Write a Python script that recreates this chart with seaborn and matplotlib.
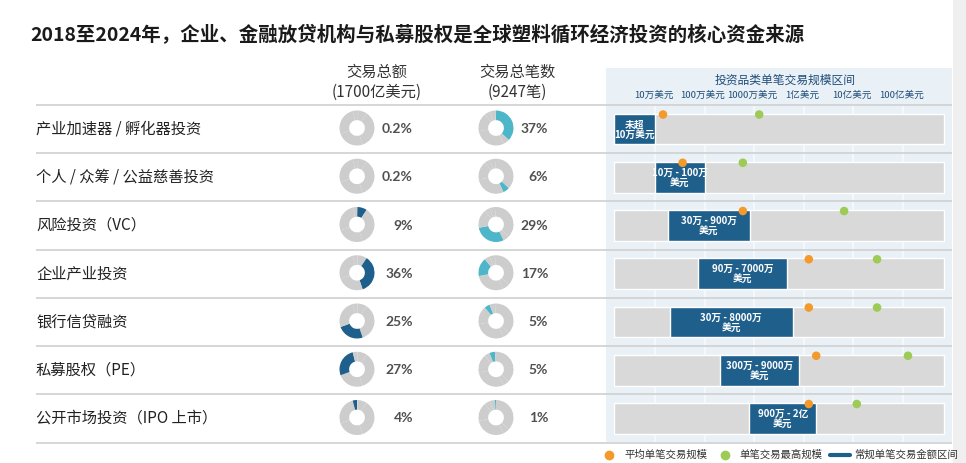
import numpy as np
import pandas as pd
import matplotlib
matplotlib.use("Agg")
import matplotlib.pyplot as plt
from matplotlib.lines import Line2D
from matplotlib.patches import Rectangle
import seaborn as sns

# ---------------- data ----------------
title = "2018至2024年，企业、金融放贷机构与私募股权是全球塑料循环经济投资的核心资金来源"
categories = [
    "产业加速器 / 孵化器投资",
    "个人 / 众筹 / 公益慈善投资",
    "风险投资（VC）",
    "企业产业投资",
    "银行信贷融资",
    "私募股权（PE）",
    "公开市场投资（IPO 上市）",
]
amount_share = [0.2, 0.2, 9, 36, 25, 27, 4]      # % of total deal value
count_share = [37, 6, 29, 17, 5, 5, 1]           # % of total deal count
amount_header = ["交易总额", "(1700亿美元)"]
count_header = ["交易总笔数", "(9247笔)"]

range_labels = [
    "未超\n10万美元",
    "10万 - 100万\n美元",
    "30万 - 900万\n美元",
    "90万 - 7000万\n美元",
    "30万 - 8000万\n美元",
    "300万 - 9000万\n美元",
    "900万 - 2亿\n美元",
]
range_low = [1.48e4, 1.0e5, 1.8e5, 7.4e5, 2.0e5, 2.04e6, 7.9e6]     # USD
range_high = [1.0e5, 1.0e6, 8.3e6, 4.6e7, 6.0e7, 7.9e7, 1.8e8]      # USD
avg_size = [1.45e5, 3.6e5, 5.9e6, 1.26e8, 1.26e8, 1.78e8, 1.26e8]   # USD
max_size = [1.26e7, 5.9e6, 6.5e8, 3.0e9, 3.0e9, 1.26e10, 1.17e9]    # USD

tick_values = [1e5, 1e6, 1e7, 1e8, 1e9, 1e10]
tick_labels = ["10万美元", "100万美元", "1000万美元", "1亿美元", "10亿美元", "100亿美元"]
panel_title = "投资品类单笔交易规模区间"
legend_labels = ["平均单笔交易规模", "单笔交易最高规模", "常规单笔交易金额区间"]

# ---------------- style ----------------
sns.set_theme(style="white")
plt.rcParams["font.family"] = ["Noto Sans CJK SC", "DejaVu Sans"]

C_DARK = "#1F5F8B"
C_TEAL = "#4DB6C9"
C_GRAY = "#CDCDCD"
C_TRACK = "#D9D9D9"
C_PANEL = "#E9F0F6"
C_ORANGE = "#F39A2B"
C_GREEN = "#9DCB56"
C_NAVY = "#1F4E79"

W, H = 966, 463
fig = plt.figure(figsize=(W / 100, H / 100), dpi=100)
fig.patch.set_facecolor("white")

ROW0, PITCH = 129.0, 48.25          # pixel centre of first row, row pitch


def row_of(py):
    return (py - ROW0) / PITCH


n = len(categories)
rows = np.arange(n)

# full-figure overlay axes in (pixel-x, row-index) coordinates
ax_tab = fig.add_axes([0, 0, 1, 1], zorder=3)
ax_tab.set_xlim(0, W)
ax_tab.set_ylim(row_of(H), row_of(0))
ax_tab.axis("off")
ax_tab.patch.set_alpha(0)

# ---------------- right panel ----------------
px0, px1, py0, py1 = 606, 952, 68, 442
ax_p = fig.add_axes([px0 / W, 1 - py1 / H, (px1 - px0) / W, (py1 - py0) / H], zorder=1)
ax_p.set_facecolor(C_PANEL)
ax_p.set_xscale("log")
ax_p.set_xlim(10 ** 4.012, 10 ** 10.988)
ax_p.set_ylim(row_of(py1), row_of(py0))
for s in ax_p.spines.values():
    s.set_visible(False)
ax_p.set_xticks([])
ax_p.set_yticks([])
ax_p.minorticks_off()
ax_p.tick_params(which="both", length=0)

ax_p.vlines(tick_values, -0.5, row_of(py1), color="#F8FAFC", lw=1.2, zorder=0.5)

track_min, track_max = 1.48e4, 6.8e10
bar_h = 0.64
ax_p.barh(rows, [track_max - track_min] * n, left=track_min, height=bar_h,
          color=C_TRACK, zorder=1)
ax_p.barh(rows, np.array(range_high) - np.array(range_low), left=range_low,
          height=bar_h, color=C_DARK, zorder=2)
for i in rows:
    xc = np.sqrt(range_low[i] * range_high[i])
    ax_p.text(xc, i + 0.01, range_labels[i], ha="center", va="center", color="white",
              fontsize=7.0, fontweight="bold", linespacing=1.0, zorder=3)

df = pd.DataFrame({"avg": avg_size, "max": max_size, "y": rows - 0.30})
sns.scatterplot(data=df, x="avg", y="y", color=C_ORANGE, s=38, edgecolor="none",
                zorder=4, ax=ax_p, legend=False, clip_on=False)
sns.scatterplot(data=df, x="max", y="y", color=C_GREEN, s=38, edgecolor="none",
                zorder=4, ax=ax_p, legend=False, clip_on=False)
ax_p.set_xlabel("")
ax_p.set_ylabel("")

ax_p.text((785 - px0) / (px1 - px0), row_of(80), panel_title,
          transform=ax_p.get_yaxis_transform(), ha="center", va="center",
          fontsize=8.5, color=C_NAVY)
for tv, tl in zip(tick_values, tick_labels):
    ax_p.text(tv * 0.93, row_of(95), tl, ha="center", va="center", fontsize=6.9, color=C_NAVY)

# ---------------- left table ----------------
fig.text(30 / W, 1 - 35 / H, title, ha="left", va="center", fontsize=14,
         fontweight="bold", color="#1A1A1A")

ax_tab.hlines(np.arange(-0.5, n), 36, 952, color="#D0D0D0", lw=1.2)
ax_tab.add_patch(Rectangle((953, row_of(H)), W - 953, row_of(0) - row_of(H),
                           color="#EFEFEF", lw=0, zorder=0))

for i, cat in enumerate(categories):
    ax_tab.text(36, i, cat, ha="left", va="center", fontsize=11, color="#222222")

for cx, hdr in ((377, amount_header), (517, count_header)):
    ax_tab.text(cx, row_of(72), hdr[0], ha="center", va="center", fontsize=11, color="#333333")
    ax_tab.text(cx, row_of(92), hdr[1], ha="center", va="center", fontsize=11, color="#333333")

R = 17.5
for col, (cx, shares, color, tx) in enumerate(((357, amount_share, C_DARK, 413),
                                               (496, count_share, C_TEAL, 548))):
    for i in rows:
        cy = ROW0 + PITCH * i - 1
        axd = fig.add_axes([(cx - R) / W, 1 - (cy + R) / H, 2 * R / W, 2 * R / H], zorder=2)
        cols = [color if j == i else C_GRAY for j in rows]
        axd.pie(shares, colors=cols, startangle=90, counterclock=False,
                wedgeprops=dict(width=0.55, linewidth=0))
        axd.set_xlim(-1, 1)
        axd.set_ylim(-1, 1)
        axd.set_aspect("equal")
        axd.axis("off")
        ax_tab.text(tx, i, f"{shares[i]:g}%", ha="right", va="center",
                    family="Lato", fontweight="bold", fontsize=10, color="#505050")

# ---------------- legend ----------------
handles = [
    Line2D([], [], marker="o", ls="", color=C_ORANGE, markersize=6),
    Line2D([], [], marker="o", ls="", color=C_GREEN, markersize=6),
    Line2D([], [], color=C_DARK, lw=3),
]
leg = fig.legend(handles, legend_labels, loc="center left",
                 bbox_to_anchor=(599 / W, 1 - 455 / H), ncol=3, frameon=False,
                 fontsize=7.5, handlelength=2.0, handletextpad=0.4,
                 columnspacing=0.7, borderaxespad=0, borderpad=0)
for t in leg.get_texts():
    t.set_color("#333333")

fig.savefig("out.png", dpi=100, facecolor="white")
